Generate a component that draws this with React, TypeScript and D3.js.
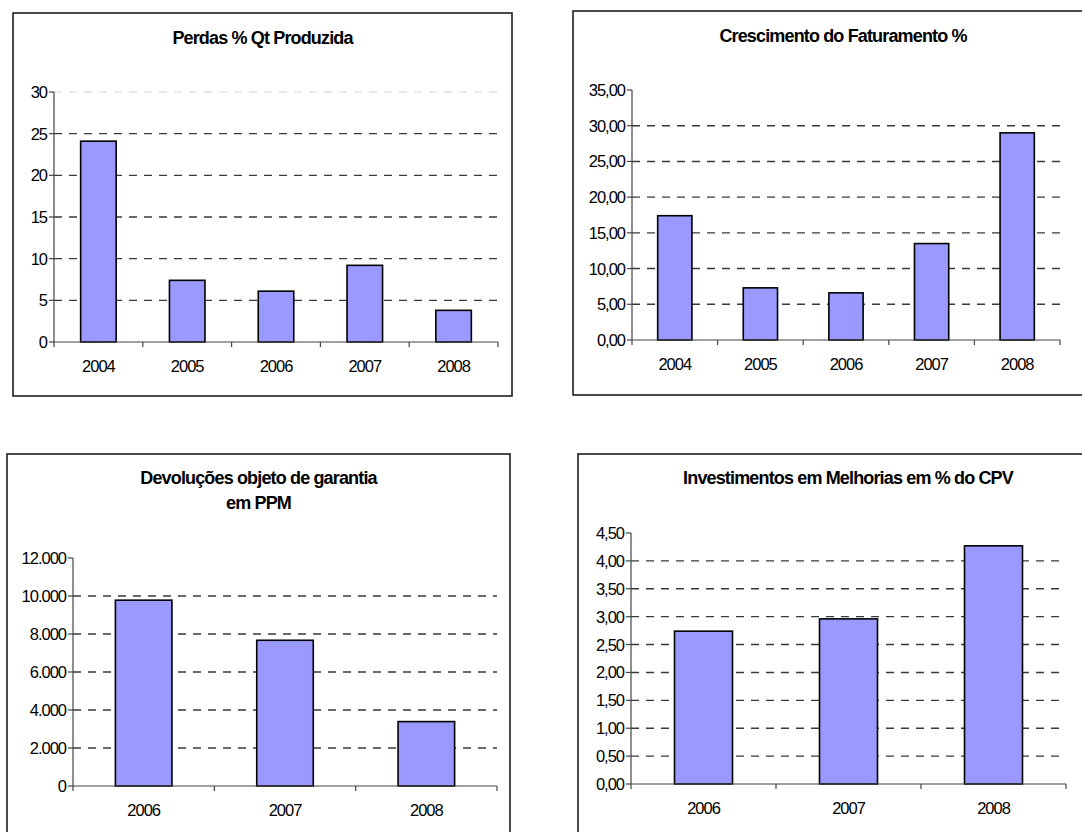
import React from 'react'
import * as d3 from 'd3'

const years5 = ['2004', '2005', '2006', '2007', '2008']
const years3 = ['2006', '2007', '2008']

const perdas = [24.1, 7.4, 6.1, 9.2, 3.8]
const crescimento = [17.4, 7.3, 6.6, 13.5, 29.0]
const devolucoes = [9780, 7670, 3390]
const investimentos = [2.74, 2.96, 4.27]

const perdasTicks = [0, 5, 10, 15, 20, 25, 30]
const crescimentoTicks = [0, 5, 10, 15, 20, 25, 30, 35]
const devolucoesTicks = [0, 2000, 4000, 6000, 8000, 10000, 12000]
const investimentosTicks = [0, 0.5, 1, 1.5, 2, 2.5, 3, 3.5, 4, 4.5]

const ptBR = d3.formatLocale({ decimal: ',', thousands: '.', grouping: [3], currency: ['R$', ''] })
const fmtInt = ptBR.format('d')
const fmtDec = ptBR.format('.2f')
const fmtThou = ptBR.format(',d')

const FONT = 'Arial, "Liberation Sans", sans-serif'

type PanelProps = {
  frame: [number, number, number, number]
  plot: { left: number; right: number; top: number; bottom: number }
  title: string[]
  titleY: number
  cats: string[]
  values: number[]
  ticks: number[]
  fmt: (v: number) => string
  topGridFaint?: boolean
}

const Panel = ({ frame, plot, title, titleY, cats, values, ticks, fmt, topGridFaint }: PanelProps) => {
  const [fx, fy, fw, fh] = frame
  const y = d3
    .scaleLinear()
    .domain([0, ticks[ticks.length - 1]])
    .range([plot.bottom, plot.top])
  const x = d3
    .scaleBand()
    .domain(cats)
    .range([plot.left, plot.right])
    .paddingInner(0.6)
    .paddingOuter(0.3)
  const step = x.step()
  const boundaries = d3.range(cats.length + 1).map((i) => plot.left + i * step)
  const cx = fx + fw / 2

  return (
    <g>
      <rect x={fx} y={fy} width={fw} height={fh} fill="#fff" stroke="#111" strokeWidth={1.5} />
      {title.map((t, i) => (
        <text
          key={t}
          x={cx}
          y={titleY + i * 25}
          textAnchor="middle"
          fontFamily={FONT}
          fontWeight="bold"
          fontSize={18}
          letterSpacing={-0.85}
          fill="#000"
        >
          {t}
        </text>
      ))}
      {/* gridlines */}
      {ticks.slice(1).map((t, i) => {
        const isTop = i === ticks.length - 2
        if (isTop && !topGridFaint) return null
        return (
          <line
            key={t}
            x1={plot.left}
            x2={plot.right}
            y1={y(t)}
            y2={y(t)}
            stroke={isTop ? '#e4e4e4' : '#3a3a3a'}
            strokeWidth={1.4}
            strokeDasharray="8,7"
          />
        )
      })}
      {/* bars */}
      {values.map((v, i) => (
        <rect
          key={cats[i]}
          x={x(cats[i])}
          y={y(v)}
          width={x.bandwidth()}
          height={y(0) - y(v)}
          fill="#9999FF"
          stroke="#000"
          strokeWidth={1.6}
        />
      ))}
      {/* y axis */}
      <line x1={plot.left} x2={plot.left} y1={plot.top} y2={plot.bottom} stroke="#444" strokeWidth={1.2} />
      {ticks.map((t) => (
        <g key={t}>
          <line x1={plot.left - 5} x2={plot.left} y1={y(t)} y2={y(t)} stroke="#444" strokeWidth={1.2} />
          <text
            x={plot.left - 7}
            y={y(t) + 6}
            textAnchor="end"
            fontFamily={FONT}
            fontSize={16.5}
            letterSpacing={-1}
            fill="#000"
          >
            {fmt(t)}
          </text>
        </g>
      ))}
      {/* x axis */}
      <line x1={plot.left} x2={plot.right} y1={plot.bottom} y2={plot.bottom} stroke="#444" strokeWidth={1.2} />
      {boundaries.map((b, i) => (
        <line key={i} x1={b} x2={b} y1={plot.bottom} y2={plot.bottom + 5} stroke="#444" strokeWidth={1.2} />
      ))}
      {cats.map((c) => (
        <text
          key={c}
          x={(x(c) as number) + x.bandwidth() / 2}
          y={plot.bottom + 30}
          textAnchor="middle"
          fontFamily={FONT}
          fontSize={16.5}
          letterSpacing={-1}
          fill="#000"
        >
          {c}
        </text>
      ))}
    </g>
  )
}

const App = () => (
  <svg
    width={1082}
    height={832}
    style={{ position: 'absolute', left: 0, top: 0, display: 'block', background: '#fff' }}
  >
    <Panel
      frame={[13, 13, 499, 383]}
      plot={{ left: 54, right: 498, top: 92, bottom: 342 }}
      title={['Perdas % Qt Produzida']}
      titleY={44}
      cats={years5}
      values={perdas}
      ticks={perdasTicks}
      fmt={fmtInt}
      topGridFaint
    />
    <Panel
      frame={[573, 11, 540, 384]}
      plot={{ left: 632, right: 1060, top: 90, bottom: 340 }}
      title={['Crescimento do Faturamento %']}
      titleY={42}
      cats={years5}
      values={crescimento}
      ticks={crescimentoTicks}
      fmt={fmtDec}
    />
    <Panel
      frame={[7, 454, 503, 400]}
      plot={{ left: 73, right: 497, top: 558, bottom: 786 }}
      title={['Devoluções objeto de garantia', 'em PPM']}
      titleY={484}
      cats={years3}
      values={devolucoes}
      ticks={devolucoesTicks}
      fmt={fmtThou}
    />
    <Panel
      frame={[578, 454, 540, 400]}
      plot={{ left: 631, right: 1066, top: 533, bottom: 784 }}
      title={['Investimentos em Melhorias em % do CPV']}
      titleY={484}
      cats={years3}
      values={investimentos}
      ticks={investimentosTicks}
      fmt={fmtDec}
    />
  </svg>
)

export default App
